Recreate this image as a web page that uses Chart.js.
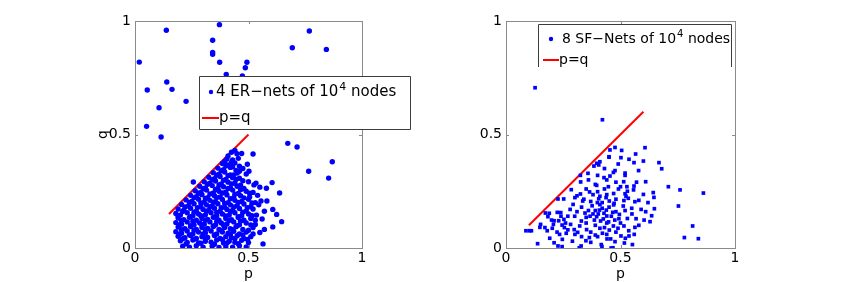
<!DOCTYPE html>
<html>
<head>
<meta charset="utf-8">
<script src="https://cdn.jsdelivr.net/npm/chart.js@4.4.1/dist/chart.umd.min.js"></script>
<style>
  html, body { margin: 0; padding: 0; background: #fff; }
  #wrap { position: relative; width: 845px; height: 282px; overflow: hidden; }
  canvas { position: absolute; top: 0; }
  #erChart { left: 0; }
  #sfChart { left: 420px; }
</style>
</head>
<body>
<div id="wrap">
  <canvas id="erChart" width="420" height="282"></canvas>
  <canvas id="sfChart" width="425" height="282"></canvas>
</div>
<script>
// axis ticks shared by both panels
var tickValues = [0, 0.5, 1];

// left panel: 4 ER-nets of 10^4 nodes, [p, q]
var erPoints = [
  [0.019,0.819],[0.138,0.959],[0.372,0.984],[0.342,0.915],[0.342,0.862],[0.342,0.853],[0.373,0.818],
  [0.493,0.818],[0.486,0.794],[0.402,0.765],[0.473,0.758],[0.693,0.882],[0.768,0.956],[0.843,0.875],
  [0.054,0.696],[0.140,0.731],[0.163,0.699],[0.225,0.646],[0.106,0.618],[0.051,0.536],[0.115,0.489],
  [0.673,0.461],[0.714,0.445],[0.869,0.380],[0.765,0.338],[0.853,0.308],
  [0.425,0.422],[0.449,0.415],[0.47,0.416],[0.52,0.414],[0.44,0.43],
  [0.405,0.392],[0.43,0.388],[0.455,0.395],[0.41,0.405],
  [0.385,0.372],[0.41,0.366],[0.44,0.375],[0.495,0.369],[0.46,0.36],
  [0.365,0.352],[0.39,0.345],[0.42,0.355],[0.445,0.342],[0.475,0.35],[0.502,0.338],
  [0.345,0.332],[0.37,0.325],[0.395,0.335],[0.42,0.322],[0.45,0.33],[0.49,0.326],
  [0.325,0.312],[0.35,0.305],[0.375,0.315],[0.40,0.302],[0.43,0.31],[0.46,0.307],[0.475,0.296],
  [0.257,0.291],[0.305,0.292],[0.33,0.285],[0.355,0.295],[0.38,0.282],[0.41,0.29],[0.44,0.285],[0.50,0.292],[0.533,0.286],[0.604,0.288],
  [0.285,0.272],[0.31,0.265],[0.34,0.275],[0.365,0.262],[0.39,0.27],[0.42,0.265],[0.45,0.272],[0.48,0.262],[0.524,0.278],[0.55,0.268],
  [0.265,0.252],[0.29,0.245],[0.315,0.255],[0.345,0.242],[0.37,0.25],[0.40,0.246],[0.43,0.255],[0.455,0.24],[0.49,0.25],[0.52,0.245],[0.579,0.263],
  [0.245,0.232],[0.27,0.226],[0.295,0.235],[0.32,0.222],[0.35,0.23],[0.375,0.225],[0.405,0.234],[0.435,0.222],[0.465,0.23],[0.505,0.225],[0.54,0.232],[0.637,0.242],
  [0.225,0.212],[0.25,0.205],[0.28,0.215],[0.305,0.202],[0.33,0.21],[0.355,0.204],[0.385,0.214],[0.41,0.2],[0.44,0.21],[0.47,0.205],[0.5,0.215],[0.53,0.2],[0.555,0.207],[0.581,0.207],
  [0.205,0.192],[0.235,0.185],[0.26,0.195],[0.29,0.182],[0.315,0.19],[0.34,0.185],[0.365,0.195],[0.395,0.18],[0.42,0.19],[0.45,0.186],[0.48,0.194],[0.51,0.182],[0.545,0.19],
  [0.19,0.172],[0.215,0.166],[0.245,0.175],[0.27,0.162],[0.3,0.17],[0.325,0.165],[0.35,0.175],[0.375,0.162],[0.405,0.17],[0.43,0.165],[0.46,0.174],[0.49,0.163],[0.52,0.172],[0.607,0.17],
  [0.18,0.152],[0.2,0.145],[0.23,0.155],[0.255,0.142],[0.28,0.15],[0.31,0.146],[0.335,0.155],[0.36,0.142],[0.385,0.15],[0.415,0.145],[0.44,0.155],[0.47,0.142],[0.5,0.15],[0.535,0.145],[0.624,0.148],
  [0.19,0.132],[0.215,0.125],[0.24,0.135],[0.27,0.122],[0.295,0.13],[0.32,0.126],[0.345,0.135],[0.37,0.122],[0.4,0.13],[0.425,0.125],[0.455,0.134],[0.48,0.122],[0.51,0.13],[0.56,0.128],
  [0.18,0.112],[0.205,0.105],[0.23,0.115],[0.26,0.102],[0.285,0.11],[0.305,0.105],[0.33,0.115],[0.355,0.102],[0.38,0.11],[0.405,0.106],[0.435,0.115],[0.46,0.102],[0.49,0.11],[0.53,0.104],[0.646,0.116],
  [0.19,0.092],[0.22,0.085],[0.245,0.095],[0.27,0.082],[0.295,0.09],[0.32,0.086],[0.345,0.095],[0.37,0.082],[0.395,0.09],[0.42,0.085],[0.445,0.094],[0.475,0.082],[0.52,0.09],[0.607,0.093],
  [0.18,0.072],[0.205,0.065],[0.23,0.075],[0.255,0.062],[0.28,0.07],[0.31,0.066],[0.335,0.075],[0.36,0.062],[0.385,0.07],[0.41,0.065],[0.435,0.074],[0.46,0.062],[0.49,0.07],[0.55,0.068],
  [0.19,0.052],[0.22,0.045],[0.245,0.055],[0.27,0.042],[0.295,0.05],[0.32,0.046],[0.35,0.055],[0.375,0.042],[0.4,0.05],[0.425,0.045],[0.45,0.054],[0.48,0.042],[0.51,0.05],
  [0.2,0.032],[0.23,0.025],[0.255,0.035],[0.28,0.022],[0.31,0.03],[0.335,0.026],[0.36,0.035],[0.39,0.022],[0.415,0.03],[0.44,0.025],[0.47,0.034],[0.5,0.024],[0.564,0.018],
  [0.21,0.008],[0.24,0.004],[0.27,0.01],[0.3,0.003],[0.34,0.008],[0.37,0.002],[0.4,0.006],[0.43,0.004],[0.46,0.01],[0.49,0.005],
  // denser core
  [0.225,0.018],[0.29,0.021],[0.35,0.017],[0.405,0.022],[0.455,0.019],
  [0.21,0.041],[0.26,0.038],[0.31,0.042],[0.385,0.037],[0.44,0.041],[0.495,0.038],
  [0.195,0.061],[0.24,0.058],[0.30,0.062],[0.35,0.057],[0.42,0.061],[0.475,0.058],[0.52,0.062],
  [0.205,0.081],[0.26,0.078],[0.31,0.082],[0.38,0.077],[0.43,0.081],[0.50,0.078],[0.57,0.082],
  [0.195,0.101],[0.245,0.098],[0.295,0.102],[0.345,0.097],[0.39,0.101],[0.45,0.098],[0.51,0.102],
  [0.205,0.121],[0.255,0.118],[0.31,0.122],[0.36,0.117],[0.415,0.121],[0.465,0.118],[0.53,0.122],
  [0.19,0.141],[0.245,0.138],[0.29,0.142],[0.35,0.137],[0.40,0.141],[0.455,0.138],[0.515,0.142],
  [0.21,0.161],[0.26,0.158],[0.315,0.162],[0.36,0.157],[0.42,0.161],[0.475,0.158],[0.57,0.162],
  [0.22,0.181],[0.275,0.178],[0.33,0.182],[0.38,0.177],[0.435,0.181],[0.495,0.178],
  [0.24,0.201],[0.29,0.198],[0.345,0.202],[0.395,0.197],[0.455,0.201],[0.515,0.198],
  [0.26,0.221],[0.31,0.218],[0.36,0.222],[0.42,0.217],[0.48,0.221],
  [0.28,0.241],[0.33,0.238],[0.385,0.242],[0.44,0.237],[0.505,0.241],
  [0.30,0.261],[0.355,0.258],[0.41,0.262],[0.465,0.257],
  [0.32,0.281],[0.37,0.278],[0.425,0.282],[0.465,0.277],
  [0.34,0.301],[0.39,0.298],[0.445,0.302],
  [0.36,0.321],[0.41,0.318],[0.435,0.322],
  [0.38,0.341],[0.46,0.338],
  [0.40,0.361],[0.43,0.358],
  [0.395,0.381],[0.425,0.378]
];
var erLineP = [0.15, 0.5];
var erLineQ = [0.15, 0.5];

// right panel: 8 SF-Nets of 10^4 nodes, [p, q]
var sfPoints = [
  [0.127,0.706],[0.421,0.565],
  [0.476,0.443],[0.607,0.442],[0.454,0.432],[0.505,0.430],[0.566,0.414],[0.450,0.402],[0.502,0.398],
  [0.537,0.391],[0.600,0.383],[0.396,0.373],[0.405,0.366],[0.384,0.361],[0.559,0.376],[0.668,0.376],
  [0.680,0.349],[0.476,0.341],[0.469,0.333],[0.579,0.341],[0.520,0.320],[0.358,0.329],[0.325,0.320],
  [0.326,0.291],[0.428,0.310],[0.454,0.317],[0.514,0.292],[0.610,0.292],[0.559,0.273],[0.709,0.270],
  [0.760,0.256],[0.862,0.242],[0.396,0.276],[0.447,0.270],[0.491,0.260],[0.528,0.270],[0.400,0.248],
  [0.285,0.257],[0.365,0.247],[0.325,0.238],[0.520,0.239],[0.557,0.256],[0.600,0.236],[0.643,0.244],
  [0.646,0.223],[0.301,0.222],[0.410,0.228],[0.437,0.222],[0.451,0.207],[0.399,0.200],[0.335,0.207],
  [0.405,0.217],[0.534,0.219],[0.515,0.209],[0.563,0.204],[0.472,0.197],[0.524,0.228],[0.252,0.216],
  [0.227,0.216],[0.293,0.192],[0.376,0.186],[0.410,0.191],[0.438,0.167],[0.512,0.185],[0.549,0.175],
  [0.648,0.173],[0.753,0.185],[0.172,0.154],[0.189,0.153],[0.224,0.157],[0.239,0.156],[0.183,0.138],
  [0.151,0.104],[0.199,0.123],[0.253,0.126],[0.345,0.154],[0.367,0.140],[0.408,0.167],[0.403,0.150],
  [0.428,0.153],[0.440,0.141],[0.386,0.123],[0.396,0.138],[0.466,0.157],[0.495,0.148],[0.493,0.129],
  [0.475,0.123],[0.448,0.115],[0.425,0.128],[0.413,0.119],[0.568,0.129],[0.603,0.123],[0.636,0.142],
  [0.629,0.116],[0.329,0.119],[0.322,0.097],[0.282,0.104],[0.245,0.101],[0.207,0.104],[0.202,0.087],
  [0.255,0.090],[0.298,0.081],[0.313,0.069],[0.352,0.081],[0.410,0.087],[0.421,0.065],[0.390,0.057],
  [0.451,0.079],[0.469,0.097],[0.489,0.087],[0.515,0.097],[0.536,0.076],[0.563,0.091],[0.502,0.053],
  [0.521,0.043],[0.517,0.022],[0.537,0.053],[0.457,0.040],[0.476,0.028],[0.441,0.040],[0.416,0.015],
  [0.419,0.006],[0.364,0.046],[0.349,0.032],[0.301,0.060],[0.263,0.065],[0.234,0.060],[0.246,0.038],
  [0.191,0.043],[0.210,0.023],[0.138,0.019],[0.087,0.076],[0.102,0.076],[0.111,0.076],[0.148,0.091],
  [0.180,0.076],[0.223,0.070],[0.227,0.009],[0.245,0.006],[0.328,0.009],[0.320,0.001],[0.467,0.001],
  [0.459,0.000],[0.552,0.015],[0.779,0.046],[0.815,0.097],[0.840,0.041],
  [0.36,0.30],[0.39,0.28],[0.43,0.26],[0.47,0.24],[0.35,0.26],[0.38,0.235],[0.42,0.20],[0.45,0.18],
  [0.48,0.16],[0.33,0.18],[0.36,0.165],[0.39,0.10],[0.43,0.09],[0.46,0.14],[0.30,0.14],[0.28,0.17],
  [0.26,0.11],[0.24,0.14],[0.35,0.11],[0.37,0.07],[0.40,0.05],[0.44,0.11],[0.50,0.11],[0.53,0.13],
  [0.55,0.15],[0.58,0.10],[0.59,0.17],[0.62,0.20],[0.57,0.29],[0.52,0.33],[0.49,0.37],[0.43,0.35],
  [0.41,0.38],[0.45,0.40],[0.50,0.27],[0.31,0.23],[0.27,0.08],[0.21,0.12],[0.17,0.09],[0.29,0.03],
  [0.34,0.215],[0.37,0.205],[0.44,0.235],[0.48,0.215],[0.42,0.175],[0.47,0.19],[0.38,0.15],[0.35,0.135],
  [0.31,0.16],[0.27,0.14],[0.23,0.12],[0.33,0.05],[0.37,0.025],[0.39,0.165],[0.52,0.165],[0.56,0.06],
  [0.44,0.06],[0.48,0.07],[0.40,0.32],[0.44,0.30],[0.48,0.29],[0.53,0.25],[0.58,0.21],[0.61,0.16]
];
var sfLineP = [0.1, 0.6];
var sfLineQ = [0.1, 0.6];

var FONT = 'DejaVu Sans';

function toXY(arr) {
  return arr.map(function (d) { return { x: d[0], y: d[1] }; });
}
function lineXY(ps, qs) {
  return ps.map(function (p, i) { return { x: p, y: qs[i] }; });
}

// axes box + inward ticks, matlab style
var framePlugin = {
  id: 'frame',
  afterDatasetsDraw: function (chart) {
    var ctx = chart.ctx, a = chart.chartArea;
    var xs = chart.scales.x, ys = chart.scales.y;
    ctx.save();
    ctx.strokeStyle = '#8a8a8a';
    ctx.lineWidth = 1;
    ctx.strokeRect(Math.round(a.left) + 0.5, Math.round(a.top) + 0.5,
      Math.round(a.right - a.left), Math.round(a.bottom - a.top));
    ctx.beginPath();
    tickValues.forEach(function (v) {
      var px = Math.round(xs.getPixelForValue(v)) + 0.5;
      var py = Math.round(ys.getPixelForValue(v)) + 0.5;
      ctx.moveTo(px, a.bottom); ctx.lineTo(px, a.bottom - 3);
      ctx.moveTo(px, a.top); ctx.lineTo(px, a.top + 3);
      ctx.moveTo(a.left, py); ctx.lineTo(a.left + 3, py);
      ctx.moveTo(a.right, py); ctx.lineTo(a.right - 3, py);
    });
    ctx.stroke();
    ctx.restore();
  }
};

// opaque legend box drawn on top of the axes
var boxLegendPlugin = {
  id: 'boxLegend',
  afterDraw: function (chart, args, o) {
    var ctx = chart.ctx;
    ctx.save();
    ctx.fillStyle = '#ffffff';
    ctx.fillRect(o.x, o.y, o.w, o.h);
    ctx.strokeStyle = '#3c3c3c';
    ctx.lineWidth = 1;
    ctx.beginPath();
    if (o.closed) {
      ctx.rect(o.x + 0.5, o.y + 0.5, o.w, o.h);
    } else {
      ctx.moveTo(o.x + 0.5, o.y + o.h);
      ctx.lineTo(o.x + 0.5, o.y + 0.5);
      ctx.lineTo(o.x + o.w + 0.5, o.y + 0.5);
      ctx.lineTo(o.x + o.w + 0.5, o.y + o.h);
    }
    ctx.stroke();

    var r1 = o.y + o.row1, r2 = o.y + o.row2;
    // marker
    ctx.fillStyle = '#0000ff';
    if (o.square) {
      ctx.fillRect(o.x + o.markX - 1.5, r1 - 1.5, 3, 3);
    } else {
      ctx.beginPath(); ctx.arc(o.x + o.markX, r1, 2.2, 0, Math.PI * 2); ctx.fill();
    }
    // red line sample
    ctx.strokeStyle = '#ff0000';
    ctx.lineWidth = 2;
    ctx.beginPath();
    ctx.moveTo(o.x + o.lineX0, r2); ctx.lineTo(o.x + o.lineX1, r2);
    ctx.stroke();

    ctx.fillStyle = '#000000';
    ctx.textBaseline = 'middle';
    ctx.textAlign = 'left';
    ctx.font = o.fontSize + 'px ' + FONT;
    var tx = o.x + o.textX;
    ctx.fillText(o.label[0], tx, r1);
    tx += ctx.measureText(o.label[0]).width;
    ctx.font = Math.round(o.fontSize * 0.7) + 'px ' + FONT;
    ctx.fillText(o.label[1], tx + 1, r1 - 5);
    tx += ctx.measureText(o.label[1]).width + 1;
    ctx.font = o.fontSize + 'px ' + FONT;
    ctx.fillText(o.label[2], tx, r1);
    ctx.fillText('p=q', o.x + o.lineX1, r2);
    ctx.restore();
  }
};

function makePanel(id, points, lineP, lineQ, yWidth, rightPad, yTitle, square, legend) {
  return new Chart(document.getElementById(id), {
    type: 'scatter',
    data: {
      datasets: [
        {
          data: toXY(points),
          backgroundColor: '#0000ff',
          borderWidth: 0,
          pointStyle: square ? 'rect' : 'circle',
          pointRadius: square ? 2.6 : 2.7
        },
        {
          type: 'line',
          data: lineXY(lineP, lineQ),
          borderColor: '#ff0000',
          borderWidth: 2,
          pointRadius: 0,
          fill: false
        }
      ]
    },
    options: {
      responsive: false,
      animation: false,
      events: [],
      layout: { padding: { top: 21, right: rightPad, left: 0, bottom: 0 } },
      plugins: {
        legend: { display: false },
        tooltip: { enabled: false },
        boxLegend: legend
      },
      scales: {
        x: {
          type: 'linear', min: 0, max: 1,
          afterBuildTicks: function (s) { s.ticks = tickValues.map(function (v) { return { value: v }; }); },
          ticks: { color: '#000', font: { family: FONT, size: 14 }, padding: 2, maxRotation: 0,
                   callback: function (v) { return String(v); } },
          grid: { display: false, drawTicks: false },
          border: { display: false },
          title: { display: true, text: 'p', color: '#000', font: { family: FONT, size: 14 }, padding: { top: 0, bottom: -1 } },
          afterFit: function (s) { s.height = 34; }
        },
        y: {
          type: 'linear', min: 0, max: 1,
          afterBuildTicks: function (s) { s.ticks = tickValues.map(function (v) { return { value: v }; }); },
          ticks: { color: '#000', font: { family: FONT, size: 14 }, padding: 4,
                   callback: function (v) { return String(v); } },
          grid: { display: false, drawTicks: false },
          border: { display: false },
          title: { display: !!yTitle, text: yTitle, color: '#000', font: { family: FONT, size: 14 }, padding: { top: 95, bottom: 0 } },
          afterFit: function (s) { s.width = yWidth; }
        }
      }
    },
    plugins: [framePlugin, boxLegendPlugin]
  });
}

makePanel('erChart', erPoints, erLineP, erLineQ, 135, 58, 'q', false, {
  x: 199, y: 76, w: 211, h: 53, closed: true,
  row1: 16, row2: 42, markX: 12, textX: 17, lineX0: 3, lineX1: 20,
  fontSize: 15, label: ['4 ER\u2212nets of 10', '4', ' nodes']
});

makePanel('sfChart', sfPoints, sfLineP, sfLineQ, 86, 110, '', true, {
  x: 118, y: 24, w: 193, h: 43, closed: false,
  row1: 15, row2: 36, markX: 13, textX: 24, lineX0: 5, lineX1: 21,
  fontSize: 14, label: ['8 SF\u2212Nets of 10', '4', ' nodes']
});
</script>
</body>
</html>
